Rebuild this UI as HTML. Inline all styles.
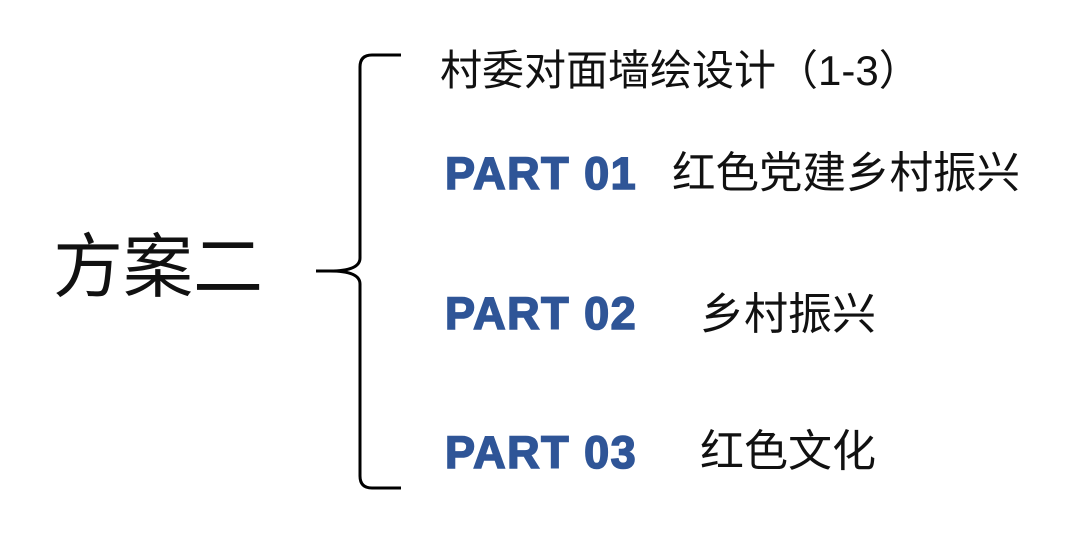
<!DOCTYPE html>
<html><head><meta charset="utf-8"><style>
html,body{margin:0;padding:0;background:#fff;width:1080px;height:558px;overflow:hidden;position:relative}
.t{position:absolute;white-space:nowrap;font-family:"Liberation Sans","Noto Sans CJK SC",sans-serif;color:#111;line-height:1;font-weight:400}
.p{position:absolute;white-space:nowrap;font-family:"Liberation Sans",sans-serif;font-weight:bold;color:#2f5597;font-size:45px;line-height:1;letter-spacing:1.5px;-webkit-text-stroke:1.6px #2f5597}
</style></head><body>
<svg width="1080" height="558" style="position:absolute;left:0;top:0">
<path d="M401 55 L372 55 Q360 55 360 67 L360 258 Q360 271 330 271 L316 271 M330 271 Q360 271 360 284 L360 476 Q360 488 372 488 L401 488" fill="none" stroke="#000" stroke-width="3"/>
</svg>
<div class="t" style="left:53px;top:232px;font-size:70px">方案二</div>
<div class="t" style="left:440px;top:50px;font-size:42px">村委对面墙绘设计（1-3）</div>
<div class="p" style="left:445px;top:151px">PART 01</div>
<div class="t" style="left:672px;top:153px;font-size:43.5px">红色党建乡村振兴</div>
<div class="p" style="left:445px;top:291px">PART 02</div>
<div class="t" style="left:700px;top:293px;font-size:44px">乡村振兴</div>
<div class="p" style="left:445px;top:430px">PART 03</div>
<div class="t" style="left:700px;top:430px;font-size:44px">红色文化</div>
</body></html>
